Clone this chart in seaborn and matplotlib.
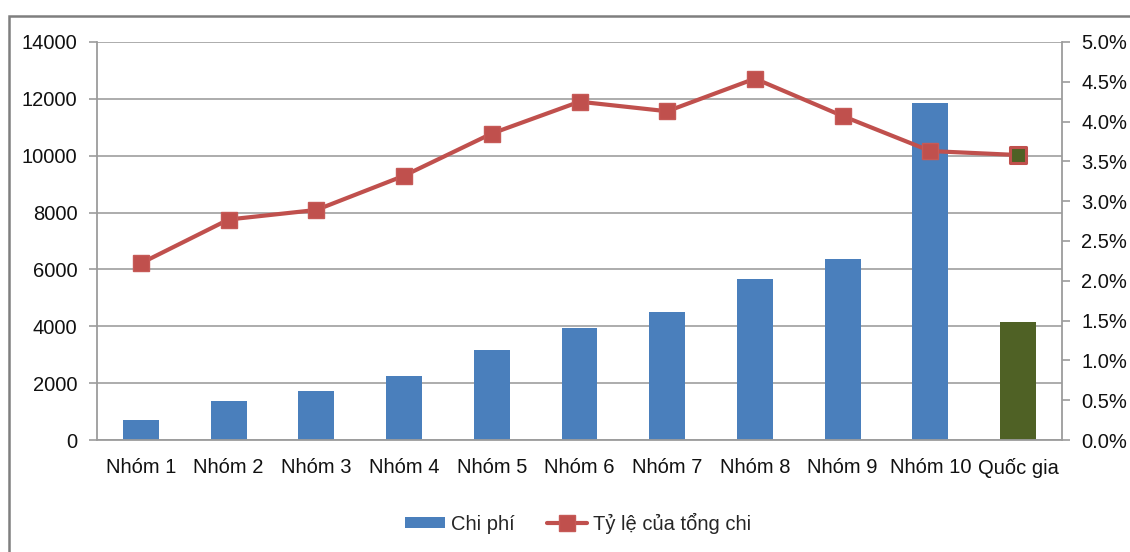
import numpy as np
import pandas as pd
import matplotlib
matplotlib.use("Agg")
import matplotlib.pyplot as plt
from matplotlib.patches import Rectangle, Patch
from matplotlib.lines import Line2D
from matplotlib.ticker import FuncFormatter, FixedLocator
import seaborn as sns

# Spending by income group (left axis) and share of total spending (right axis)
categories = ["Nhóm 1", "Nhóm 2", "Nhóm 3", "Nhóm 4", "Nhóm 5", "Nhóm 6",
              "Nhóm 7", "Nhóm 8", "Nhóm 9", "Nhóm 10", "Quốc gia"]
chi_phi = [700, 1380, 1710, 2260, 3180, 3940, 4510, 5650, 6360, 11840, 4140]
ty_le = [2.22, 2.77, 2.89, 3.32, 3.85, 4.25, 4.13, 4.54, 4.07, 3.63, 3.58]
left_ticks = [0, 2000, 4000, 6000, 8000, 10000, 12000, 14000]
right_ticks = [0.0, 0.5, 1.0, 1.5, 2.0, 2.5, 3.0, 3.5, 4.0, 4.5, 5.0]
bar_label = "Chi phí"
line_label = "Tỷ lệ của tổng chi"

BLUE = "#4A7FBC"
OLIVE = "#4F6125"
RED = "#C0504D"
GRID = "#A6A6A6"
AXIS = "#9C9C9C"

sns.set_theme(style="white")
plt.rcParams["font.family"] = ["Liberation Sans", "DejaVu Sans"]
plt.rcParams["font.size"] = 14.5

df = pd.DataFrame({"nhom": categories, "chi_phi": chi_phi, "ty_le": ty_le})
df["pos"] = np.arange(len(df))
bar_colors = [BLUE] * (len(categories) - 1) + [OLIVE]

fig = plt.figure(figsize=(11.3, 5.52), dpi=100)
ax = fig.add_axes([97 / 1130, 1 - 440 / 552, (1062 - 97) / 1130, (440 - 42) / 552])

sns.barplot(data=df, x="nhom", y="chi_phi", hue="nhom", palette=bar_colors,
            legend=False, width=0.41, saturation=1, linewidth=0, ax=ax)
ax.set_xlim(-0.5, len(categories) - 0.5)
ax.set_ylim(0, 14000)
ax.set_yticks(left_ticks)
ax.set_yticklabels([str(t) for t in left_ticks])
ax.set_axisbelow(True)
ax.yaxis.grid(True, color=GRID, linewidth=1.3)
ax.xaxis.grid(False)
ax.set_xlabel("")
ax.set_ylabel("")

# category boundary ticks on the x axis
ax.xaxis.set_minor_locator(FixedLocator(np.arange(-0.5, len(categories), 1.0)))
ax.tick_params(axis="x", which="major", length=0, pad=13, labelsize=14.5, colors="#111111")
ax.tick_params(axis="x", which="minor", length=8, width=1.2, color=AXIS, direction="out")
ax.tick_params(axis="y", length=6, width=1.2, color=AXIS, pad=8, labelsize=14.5,
               labelcolor="#111111", left=True)
for side in ["top", "right"]:
    ax.spines[side].set_visible(False)
for side in ["left", "bottom"]:
    ax.spines[side].set_color(AXIS)
    ax.spines[side].set_linewidth(1.3)

ax2 = ax.twinx()
sns.lineplot(data=df, x="pos", y="ty_le", color=RED, linewidth=3.0, marker="s",
             markersize=12, markeredgecolor="#C65A57", markeredgewidth=1, ax=ax2)
last = df.iloc[[-1]]
sns.scatterplot(data=last, x="pos", y="ty_le", marker="s", s=120, color=OLIVE,
                edgecolor=RED, linewidth=2.2, zorder=5, ax=ax2)
ax2.set_ylim(0, 5.0)
ax2.set_yticks(right_ticks)
ax2.yaxis.set_major_formatter(FuncFormatter(lambda v, p: f"{v:.1f}%"))
ax2.set_xlim(-0.5, len(categories) - 0.5)
ax2.set_xlabel("")
ax2.set_ylabel("")
ax2.tick_params(axis="y", length=6, width=1.2, color=AXIS, pad=8, labelsize=14.5,
                labelcolor="#111111", right=True)
for side in ["top", "left", "bottom"]:
    ax2.spines[side].set_visible(False)
ax2.spines["right"].set_color(AXIS)
ax2.spines["right"].set_linewidth(1.3)
ax2.grid(False)

handles = [
    Patch(facecolor=BLUE, edgecolor="none"),
    Line2D([0], [0], color=RED, linewidth=3.0, marker="s", markersize=12,
           markeredgecolor="#C65A57"),
]
fig.legend(handles, [bar_label, line_label], loc="center",
           bbox_to_anchor=(578 / 1130, 1 - 523 / 552), ncol=2, frameon=False,
           fontsize=14.5, handlelength=2.0, handleheight=0.5, handletextpad=0.3,
           columnspacing=1.6)

# outer chart border
fig.patches.append(Rectangle((9 / 1130, -0.05), 1.2, 1 - 15.5 / 552 + 0.05,
                             transform=fig.transFigure, fill=False,
                             edgecolor="#7F7F7F", linewidth=1.8))

fig.savefig("out.png", dpi=100)
